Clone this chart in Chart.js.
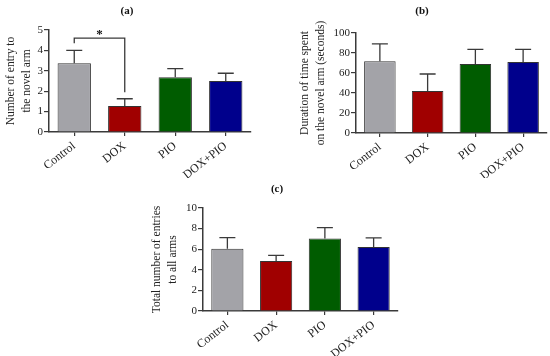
<!DOCTYPE html>
<html>
<head>
<meta charset="utf-8">
<script src="https://cdn.jsdelivr.net/npm/chart.js@4"></script>
<style>
  body { margin: 0; background: #fff; }
  #wrap { position: relative; width: 550px; height: 356px; }
  canvas { position: absolute; }
</style>
</head>
<body>
<div id="wrap">
  <canvas id="chartA" width="275" height="178" style="left:0;top:0"></canvas>
  <canvas id="chartB" width="275" height="178" style="left:275px;top:0"></canvas>
  <canvas id="chartC" width="275" height="186" style="left:140px;top:170px"></canvas>
</div>
<script>
const groups = ["Control", "DOX", "PIO", "DOX+PIO"];

// (a) entries to the novel arm
const novelEntries = [3.37, 1.27, 2.68, 2.5];
const novelEntriesErr = [0.63, 0.36, 0.43, 0.38];
const ticksA = [0, 1, 2, 3, 4, 5];

// (b) time spent on the novel arm (s)
const novelTime = [71.7, 42, 69, 71];
const novelTimeErr = [17.5, 17, 14.7, 12.7];
const ticksB = [0, 20, 40, 60, 80, 100];

// (c) total entries to all arms
const totalEntries = [6.05, 4.85, 7.03, 6.22];
const totalEntriesErr = [1.08, 0.56, 1.07, 0.88];
const ticksC = [0, 2, 4, 6, 8, 10];

// significance bracket in (a): Control vs DOX
const sigPair = [0, 1];
const sigLevels = [4.35, 4.6, 1.95]; // left leg end, bar, right leg end

const barColors = ["#a3a3a8", "#a00000", "#005c00", "#00008c"];
const axisColor = "#3a3a3a";
const serif = "'Liberation Serif', 'Times New Roman', serif";

const errorBars = {
  id: "errorBars",
  afterDatasetsDraw(chart, args, opts) {
    const ctx = chart.ctx;
    const y = chart.scales.y;
    const meta = chart.getDatasetMeta(0);
    ctx.save();
    ctx.strokeStyle = axisColor;
    ctx.lineWidth = 1.3;
    meta.data.forEach((bar, i) => {
      const top = y.getPixelForValue(opts.values[i] + opts.errors[i]);
      ctx.beginPath();
      ctx.moveTo(bar.x, bar.y);
      ctx.lineTo(bar.x, top);
      ctx.moveTo(bar.x - 8, top);
      ctx.lineTo(bar.x + 8, top);
      ctx.stroke();
    });
    if (opts.sig) {
      const a = meta.data[opts.sig.pair[0]].x;
      const b = meta.data[opts.sig.pair[1]].x;
      const lv = opts.sig.levels;
      ctx.beginPath();
      ctx.moveTo(a, y.getPixelForValue(lv[0]));
      ctx.lineTo(a, y.getPixelForValue(lv[1]));
      ctx.lineTo(b, y.getPixelForValue(lv[1]));
      ctx.lineTo(b, y.getPixelForValue(lv[2]));
      ctx.stroke();
      ctx.fillStyle = "#111";
      ctx.font = "bold 13px " + serif;
      ctx.textAlign = "center";
      ctx.textBaseline = "middle";
      ctx.fillText("*", (a + b) / 2, y.getPixelForValue(lv[1]) - 4);
    }
    ctx.restore();
  }
};

const panelTitle = {
  id: "panelTitle",
  afterDraw(chart, args, opts) {
    const ctx = chart.ctx;
    ctx.save();
    ctx.fillStyle = "#111";
    ctx.font = "bold 11px " + serif;
    ctx.textAlign = "center";
    ctx.textBaseline = "middle";
    ctx.fillText(opts.text, opts.x, opts.y);
    ctx.restore();
  }
};

function makePanel(id, opts) {
  return new Chart(document.getElementById(id), {
    type: "bar",
    data: {
      labels: groups,
      datasets: [{
        data: opts.values,
        backgroundColor: barColors,
        borderColor: "#333",
        borderWidth: 1,
        categoryPercentage: 1,
        barPercentage: 0.66
      }]
    },
    plugins: [errorBars, panelTitle],
    options: {
      responsive: false,
      animation: false,
      layout: { padding: { top: opts.top, right: opts.right, left: 0, bottom: 0 } },
      plugins: {
        legend: { display: false },
        tooltip: { enabled: false },
        errorBars: { values: opts.values, errors: opts.errors, sig: opts.sig },
        panelTitle: opts.title
      },
      scales: {
        x: {
          offset: true,
          grid: { offset: false, drawOnChartArea: false, tickLength: 4, color: axisColor, lineWidth: 1.2 },
          border: { color: axisColor, width: 1.5 },
          ticks: { color: "#222", font: { family: serif, size: 12 }, minRotation: 38, maxRotation: 38, padding: 3 },
          afterFit(s) { s.height = opts.bottom; }
        },
        y: {
          min: opts.ticks[0],
          max: opts.ticks[opts.ticks.length - 1],
          afterBuildTicks(s) { s.ticks = opts.ticks.map(v => ({ value: v })); },
          grid: { drawOnChartArea: false, tickLength: 5, color: axisColor, lineWidth: 1.2 },
          border: { color: axisColor, width: 1.5 },
          ticks: { color: "#222", font: { family: serif, size: 11 }, padding: 1 },
          title: {
            display: true,
            text: opts.yTitle,
            color: "#222",
            font: { family: serif, size: 11.5, lineHeight: 1.4 },
            padding: { top: opts.titleGap, bottom: 2 }
          },
          afterFit(s) { s.width = opts.left; }
        }
      }
    }
  });
}

makePanel("chartA", {
  values: novelEntries, errors: novelEntriesErr, ticks: ticksA,
  yTitle: ["Number of entry to", "the novel arm"],
  title: { text: "(a)", x: 127, y: 11 },
  sig: { pair: sigPair, levels: sigLevels },
  top: 30, right: 24, left: 49, bottom: 46, titleGap: 3
});

makePanel("chartB", {
  values: novelTime, errors: novelTimeErr, ticks: ticksB,
  yTitle: ["Duration of time spent", "on the novel arm (seconds)"],
  title: { text: "(b)", x: 147, y: 11 },
  top: 33, right: 3, left: 81, bottom: 45, titleGap: 22
});

makePanel("chartC", {
  values: totalEntries, errors: totalEntriesErr, ticks: ticksC,
  yTitle: ["Total number of entries", "to all arms"],
  title: { text: "(c)", x: 137, y: 19 },
  top: 38, right: 17, left: 63, bottom: 45, titleGap: 9
});
</script>
</body>
</html>
